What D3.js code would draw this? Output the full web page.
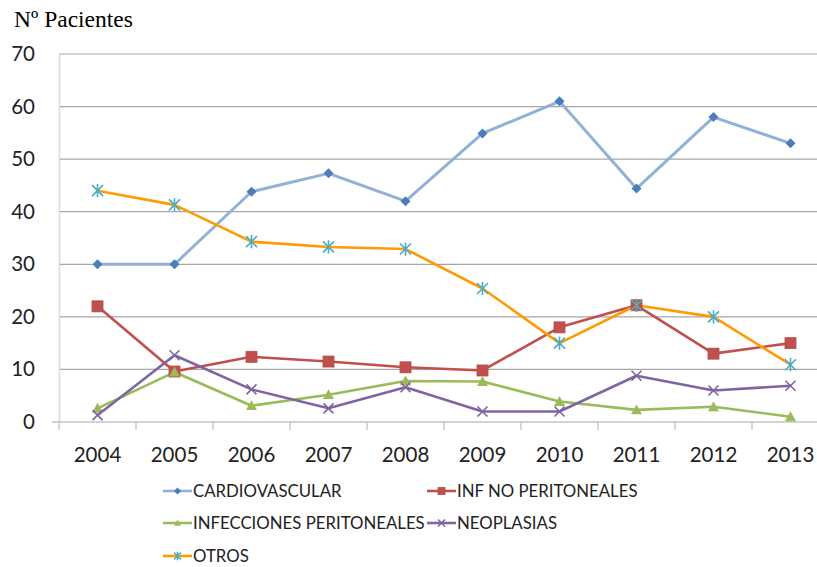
<!DOCTYPE html>
<html><head><meta charset="utf-8">
<script src="https://cdn.jsdelivr.net/npm/d3@7"></script>
<style>body{margin:0;background:#fff;overflow:hidden}svg{display:block}</style>
</head><body>
<script>
const years = ["2004","2005","2006","2007","2008","2009","2010","2011","2012","2013"];
const yTicks = [0,10,20,30,40,50,60,70];
const cardiovascular = [30,30,43.8,47.3,42,54.9,61,44.4,58,53];
const infNoPeritoneales = [22,9.6,12.4,11.5,10.4,9.8,18,22.2,13,15];
const infeccionesPeritoneales = [2.6,9.5,3.1,5.2,7.8,7.7,3.9,2.3,2.9,1];
const neoplasias = [1.3,12.7,6.2,2.6,6.6,2,2,8.8,6,6.9];
const otros = [44,41.3,34.3,33.3,32.9,25.4,15,22.2,20,10.9];

const series = [
  {name:"CARDIOVASCULAR", values:cardiovascular, line:"#93B1D6", mark:"#4A7EBB", sym:"diamond"},
  {name:"INF NO PERITONEALES", values:infNoPeritoneales, line:"#C0504D", mark:"#C0504D", sym:"square"},
  {name:"INFECCIONES PERITONEALES", values:infeccionesPeritoneales, line:"#9BBB59", mark:"#9BBB59", sym:"triangle"},
  {name:"NEOPLASIAS", values:neoplasias, line:"#8064A2", mark:"#8064A2", sym:"x"},
  {name:"OTROS", values:otros, line:"#FF9A00", mark:"#4BACC6", sym:"star"}
];

const W=817,H=567;
const svg=d3.select("body").append("svg").attr("width",W).attr("height",H);
const pLeft=59, pRight=829, pTop=54, pBottom=422;
const x=d3.scaleBand().domain(years).range([pLeft,pRight]);
const y=d3.scaleLinear().domain([0,70]).range([pBottom,pTop]);
const font="Lato, 'Open Sans', sans-serif";

svg.append("text").attr("x",14).attr("y",27).attr("font-family","'Liberation Serif', serif").attr("font-size",23.5).attr("fill","#000").text("Nº Pacientes");

// grid
svg.append("g").selectAll("line").data(yTicks.filter(d=>d>0)).join("line")
  .attr("x1",pLeft).attr("x2",pRight).attr("y1",d=>y(d)).attr("y2",d=>y(d))
  .attr("stroke","#A6A6A6").attr("stroke-width",1.2);
// y axis
const ya=svg.append("g").attr("transform",`translate(${pLeft},0)`).call(d3.axisLeft(y).tickValues(yTicks).tickSize(0).tickPadding(24));
ya.select(".domain").attr("stroke","#D9D9D9").attr("stroke-width",1.5);
ya.selectAll("text").attr("font-family",font).attr("font-size",20.5).attr("fill","#222");
// x axis
const xa=svg.append("g").attr("transform",`translate(0,${pBottom})`).call(d3.axisBottom(x).tickSize(0).tickPadding(25));
xa.select(".domain").remove();
xa.selectAll("text").attr("font-family",font).attr("font-size",20.5).attr("fill","#222");
svg.append("line").attr("x1",pLeft-7).attr("x2",pRight).attr("y1",pBottom).attr("y2",pBottom).attr("stroke","#A6A6A6").attr("stroke-width",1.2);
svg.append("g").selectAll("line").data(years).join("line")
  .attr("x1",d=>x(d)).attr("x2",d=>x(d)).attr("y1",pBottom).attr("y2",pBottom+8)
  .attr("stroke","#C8C8C8").attr("stroke-width",1.5);

function drawMarker(g,sym,color,s){
  if(sym==="diamond") g.append("path").attr("d",`M0,${-s}L${s},0L0,${s}L${-s},0Z`).attr("fill",color);
  else if(sym==="square") g.append("rect").attr("x",-s).attr("y",-s).attr("width",2*s).attr("height",2*s).attr("fill",color).attr("stroke","#B84A47").attr("stroke-width",0.8);
  else if(sym==="triangle") g.append("path").attr("d",`M0,${-s}L${s},${s*0.8}L${-s},${s*0.8}Z`).attr("fill",color);
  else if(sym==="x") g.append("path").attr("d",`M${-s},${-s}L${s},${s}M${-s},${s}L${s},${-s}`).attr("stroke",color).attr("stroke-width",1.6);
  else if(sym==="star") g.append("path").attr("d",`M${-s},${-s}L${s},${s}M${-s},${s}L${s},${-s}M0,${-s*1.2}L0,${s*1.2}`).attr("stroke",color).attr("stroke-width",1.6);
}
const cx=d=>x(d)+x.bandwidth()/2;
const line=d3.line().x((d,i)=>cx(years[i])).y(d=>y(d));
const sizes={diamond:5,square:5.5,triangle:5.5,x:5,star:5.5};
series.forEach(s=>{
  svg.append("path").datum(s.values).attr("d",line).attr("fill","none").attr("stroke",s.line).attr("stroke-width",s.sym==="diamond"?3:2.6).attr("stroke-linejoin","round");
});
series.forEach(s=>{
  s.values.forEach((v,i)=>{
    const g=svg.append("g").attr("transform",`translate(${cx(years[i])},${y(v)})`);
    drawMarker(g,s.sym,s.mark,sizes[s.sym]);
  });
});

// legend
const legPos=[[163,491],[427,491],[163,523],[427,523],[163,556]];
series.forEach((s,i)=>{
  const [lx,ly]=legPos[i];
  svg.append("line").attr("x1",lx).attr("x2",lx+29).attr("y1",ly).attr("y2",ly).attr("stroke",s.line).attr("stroke-width",2.6);
  const g=svg.append("g").attr("transform",`translate(${lx+14.5},${ly})`);
  drawMarker(g,s.sym,s.mark,3.5);
  svg.append("text").attr("x",lx+30).attr("y",ly).attr("dy","0.36em").attr("font-family",font).attr("font-size",16.8).attr("fill","#222").text(s.name);
});
</script>
</body></html>
